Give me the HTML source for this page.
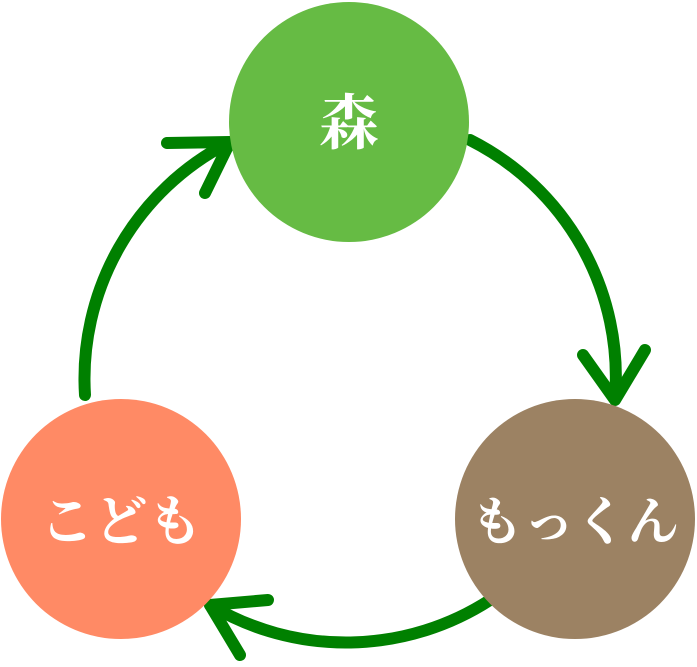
<!DOCTYPE html>
<html><head><meta charset="utf-8"><style>
html,body{margin:0;padding:0;background:#fff;}
</style></head><body>
<svg width="697" height="662" viewBox="0 0 697 662" xmlns="http://www.w3.org/2000/svg">
<g fill="none" stroke="#008000" stroke-width="12" stroke-linecap="round" stroke-linejoin="round">
<path d="M470 140 A265 265 0 0 1 615 398"/>
<path d="M583 355 L615 400 L645 350"/>
<path d="M490 600 A265 265 0 0 1 210 605"/>
<path d="M268 600 L210 605 L240 655"/>
<path d="M85 395 A265 265 0 0 1 228 143"/>
<path d="M167 143 L230 142 L205 193"/>
</g>
<circle cx="349" cy="122" r="120" fill="#66bb44"/>
<circle cx="575" cy="519" r="120" fill="#9c8263"/>
<circle cx="121" cy="519" r="120" fill="#ff8a65"/>
<g fill="#fff" font-family="'Liberation Serif','Noto Serif CJK SC',serif" font-weight="bold" text-anchor="middle">
<text x="349" y="144" font-size="60">森</text>
<text x="121" y="540" font-size="54">こども</text>
<text x="575" y="540" font-size="52">もっくん</text>
</g>
</svg>
</body></html>
